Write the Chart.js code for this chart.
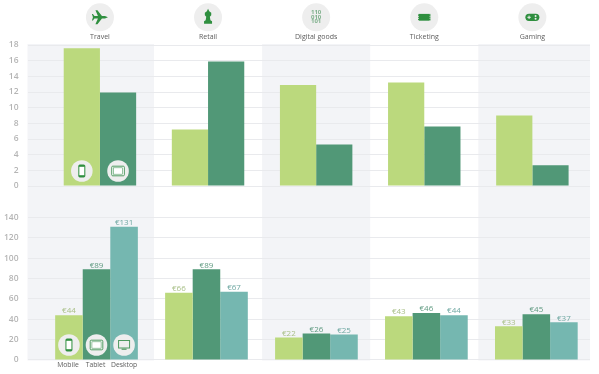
<!DOCTYPE html>
<html><head><meta charset="utf-8">
<script src="https://cdn.jsdelivr.net/npm/chart.js@4"></script>
<style>
html,body{margin:0;padding:0;background:#fff;width:599px;height:374px;overflow:hidden}
canvas{position:absolute;left:0;top:0;filter:blur(0.3px)}
</style></head><body>
<canvas id="top" width="599" height="374"></canvas>
<canvas id="bottom" width="599" height="374"></canvas>
<script>
const categories = ["Travel","Retail","Digital goods","Ticketing","Gaming"];
const devices = ["Mobile","Tablet","Desktop"];
const shareMobile = [17.6,7.2,12.9,13.2,9.0];
const shareTablet = [11.95,15.9,5.3,7.6,2.65];
const spendMobile = [44,66,22,43,33];
const spendTablet = [89,89,26,46,45];
const spendDesktop = [131,67,25,44,37];
const topTicks = [0,2,4,6,8,10,12,14,16,18];
const bottomTicks = [0,20,40,60,80,100,120,140];

const LIGHT="#bbd97d", MID="#519877", TEAL="#75b7b0";
const LABEL_COL=["#a9c088","#5f9a80","#6fa8a2"];
const FONT="'Open Sans'";
const toXY=a=>a.map((y,x)=>({x,y}));

function disc(c,x,y,r){c.fillStyle="#eeeeee";c.beginPath();c.arc(x,y,r,0,Math.PI*2);c.fill();}
function rr(c,x,y,w,h,r){c.beginPath();c.roundRect(x,y,w,h,r);}
function drawIcon(c,kind,x,y){
  const g="#2f8f3f";
  c.save();c.translate(x,y);c.fillStyle=g;c.strokeStyle=g;
  if(kind==="Travel"){
    c.beginPath();
    c.moveTo(8,0);c.lineTo(5,-1.3);c.lineTo(2,-1.3);c.lineTo(-2.5,-7);c.lineTo(-4.5,-7);c.lineTo(-2,-1.3);
    c.lineTo(-5.5,-1.3);c.lineTo(-7,-3.2);c.lineTo(-8,-3.2);c.lineTo(-7,0);c.lineTo(-8,3.2);c.lineTo(-7,3.2);
    c.lineTo(-5.5,1.3);c.lineTo(-2,1.3);c.lineTo(-4.5,7);c.lineTo(-2.5,7);c.lineTo(2,1.3);c.lineTo(5,1.3);c.closePath();c.fill();
  } else if(kind==="Retail"){
    c.beginPath();
    c.moveTo(0,-8.5);c.lineTo(1.2,-6);c.lineTo(3.2,-4.5);c.lineTo(3.2,-2);c.lineTo(1.8,-.5);c.lineTo(2.4,3);
    c.lineTo(4,4);c.lineTo(4,6.5);c.lineTo(-4,6.5);c.lineTo(-4,4);c.lineTo(-2.4,3);c.lineTo(-1.8,-.5);c.lineTo(-3.2,-2);c.lineTo(-3.2,-4.5);c.lineTo(-1.2,-6);c.closePath();c.fill();
  } else if(kind==="Digital goods"){
    c.fillStyle="#7fb08c";c.font="bold 6px "+FONT;c.textAlign="center";c.textBaseline="middle";
    ["110","010","101"].forEach((s,i)=>c.fillText(s,0,-5+i*4.6));
  } else if(kind==="Ticketing"){
    c.beginPath();c.rect(-6.2,-3.4,12.4,6.8);c.fill();
    c.fillStyle="#eeeeee";[-3.4,-1,1,3.4].forEach(v=>{c.fillRect(-6.2,v-.5,.9,1);c.fillRect(5.3,v-.5,.9,1);});
  } else if(kind==="Gaming"){
    rr(c,-7,-3.6,14,7.2,3.6);c.fill();
    c.fillStyle="#eeeeee";c.fillRect(-5,-.5,3.4,1);c.fillRect(-3.8,-1.7,1,3.4);
    c.beginPath();c.arc(3.2,-1.2,1,0,7);c.arc(3.2,1.4,1,0,7);c.fill();
  } else if(kind==="Mobile"){
    c.fillStyle="#ffffff";rr(c,-3,-6,6,12,1);c.fill();
    c.fillStyle=g;c.lineWidth=1;rr(c,-3,-6,6,12,1);c.stroke();
    c.fillRect(-3,-6,6,1.8);c.fillRect(-3,4.2,6,1.8);
  } else if(kind==="Tablet"){
    c.fillStyle="#ffffff";rr(c,-6.3,-4.8,12.6,9.6,1);c.fill();
    c.strokeStyle="#4f9a60";c.lineWidth=1;rr(c,-6.3,-4.8,12.6,9.6,1);c.stroke();
    c.lineWidth=.6;c.strokeRect(-4.6,-3.2,9.2,6.4);
  } else if(kind==="Desktop"){
    c.strokeStyle="#4f9a60";c.fillStyle="#4f9a60";c.lineWidth=1;c.strokeRect(-5.5,-4.5,11,7.5);
    c.fillRect(-2.5,3.6,5,1.2);
  }
  c.restore();
}

const baseX=(hidden,min,max)=>({
  type:"linear",offset:false,min,max,
  afterBuildTicks(s){s.ticks=categories.map((_,i)=>({value:i}));},
  afterFit(s){s.height=hidden?0:45;},
  grid:{display:false,drawTicks:false},border:{display:false},
  ticks:{display:!hidden,autoSkip:false,maxRotation:0,padding:4,color:"#5c5c5c",font:{family:FONT,size:7},
    callback:v=>categories[v]},
});
const baseY=(max,list)=>({
  min:0,max,position:"left",
  afterBuildTicks(s){s.ticks=list.map(value=>({value}));},
  afterFit(s){s.width=27.5;},
  grid:{color:"#e9eaed",lineWidth:1,drawTicks:false},border:{display:false},
  ticks:{padding:9,color:"#b5b5b5",font:{family:FONT,size:8.5,weight:"600"}},
});
const common={responsive:false,animation:false,events:[],plugins:{legend:{display:false},tooltip:{enabled:false}}};

const bandsPlugin={id:"bands",beforeDraw(ch){
  const c=ch.ctx,s=ch.scales.x;
  c.save();c.fillStyle="#f3f4f7";
  [[s.min,0.5],[1.5,2.5],[3.5,s.max]].forEach(([a,b])=>{
    const l=s.getPixelForValue(a),r=s.getPixelForValue(b);
    c.fillRect(l,44,r-l,360.5-44);
  });
  c.restore();
}};
const topIcons={id:"topIcons",afterDraw(ch){
  const c=ch.ctx,s=ch.scales.x;
  categories.forEach((n,i)=>{const x=s.getPixelForValue(i);disc(c,x,17.3,14);drawIcon(c,n,x,17.3);});
  const m=ch.getDatasetMeta(0).data[0],t=ch.getDatasetMeta(1).data[0];
  [[m,"Mobile"],[t,"Tablet"]].forEach(([e,n])=>{disc(c,e.x,171,10.8);drawIcon(c,n,e.x,171);});
}};
const bottomMarks={id:"bottomMarks",afterDraw(ch){
  const c=ch.ctx;
  c.save();c.textAlign="center";c.textBaseline="bottom";
  ch.data.datasets.forEach((d,k)=>{
    c.fillStyle=LABEL_COL[k];c.font="8px "+FONT;
    ch.getDatasetMeta(k).data.forEach((e,i)=>c.fillText("€"+d.data[i].y,e.x,e.y));
  });
  devices.forEach((n,k)=>{
    const e=ch.getDatasetMeta(k).data[0];
    disc(c,e.x,345,10.8);drawIcon(c,n,e.x,345);
    c.fillStyle="#5c5c5c";c.font="6.8px "+FONT;c.textBaseline="middle";
    c.fillText(n,e.x-(k===2?0:1),365);
  });
  c.restore();
}};

new Chart(document.getElementById("top"),{
  type:"bar",
  data:{datasets:[
    {label:devices[0],data:toXY(shareMobile),backgroundColor:LIGHT},
    {label:devices[1],data:toXY(shareTablet),backgroundColor:MID},
  ].map(d=>({...d,categoryPercentage:.67,barPercentage:1}))},
  options:{...common,layout:{padding:{top:0,bottom:188,left:0,right:9}},
    scales:{x:{...baseX(false,-0.67,4.533),position:"top"},y:baseY(18,topTicks)}},
  plugins:[bandsPlugin,topIcons]
});
new Chart(document.getElementById("bottom"),{
  type:"bar",
  data:{datasets:[
    {label:devices[0],data:toXY(spendMobile),backgroundColor:LIGHT},
    {label:devices[1],data:toXY(spendTablet),backgroundColor:MID},
    {label:devices[2],data:toXY(spendDesktop),backgroundColor:TEAL},
  ].map(d=>({...d,categoryPercentage:.752,barPercentage:1}))},
  options:{...common,layout:{padding:{top:217.5,bottom:13.5,left:0,right:9}},
    scales:{x:baseX(true,-0.6276,4.488),y:baseY(140,bottomTicks)}},
  plugins:[bottomMarks]
});
</script>
</body></html>
